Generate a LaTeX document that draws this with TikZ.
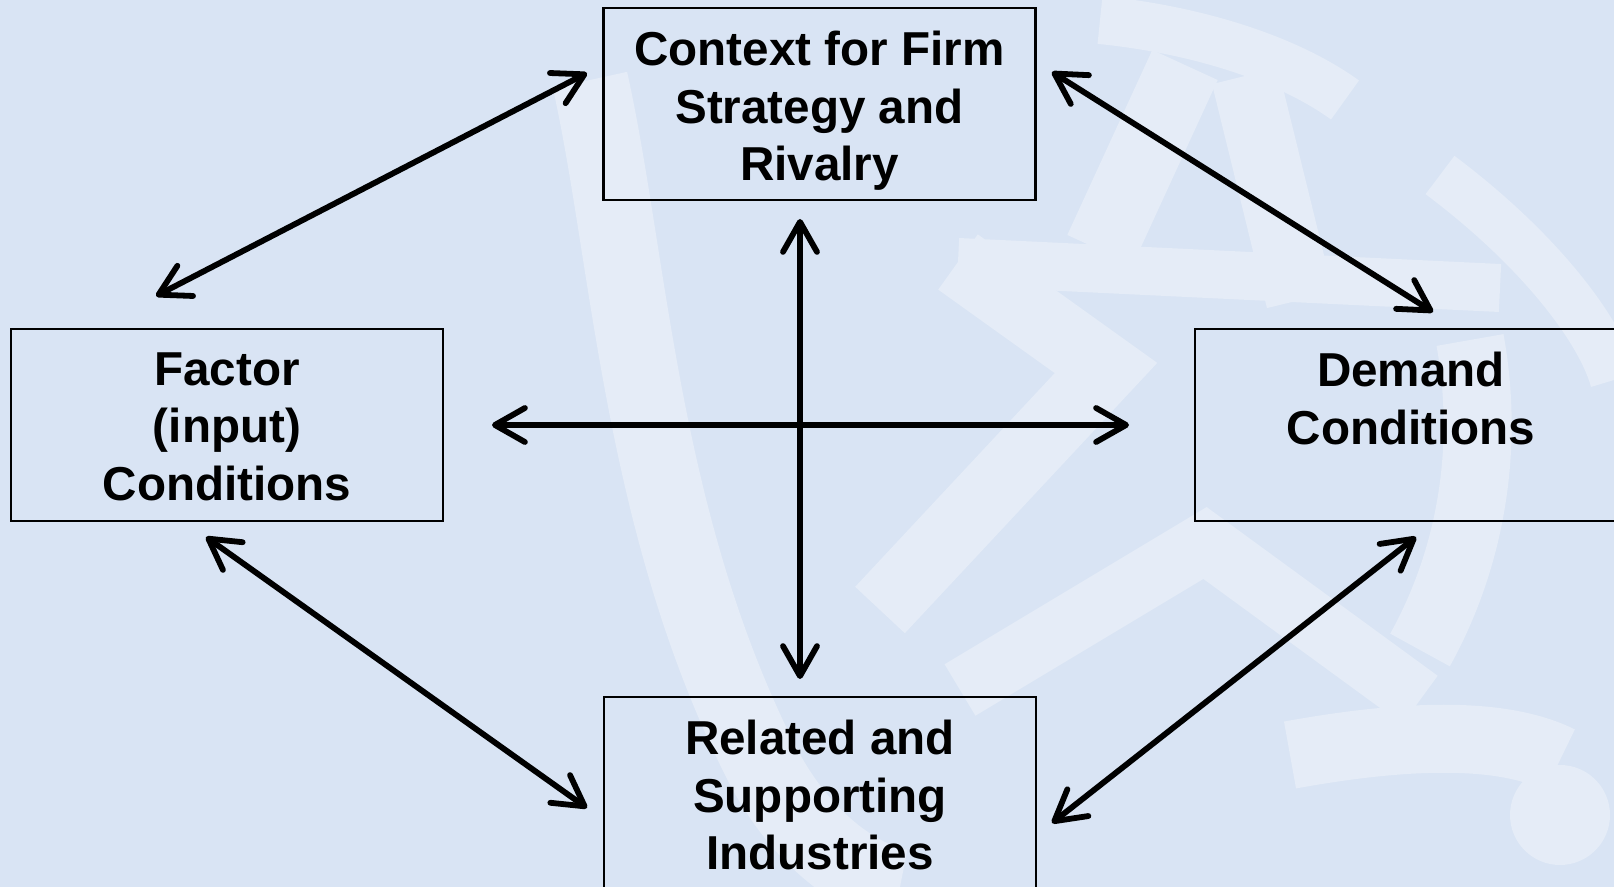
\documentclass[tikz,border=0pt]{standalone}
\usepackage{fontspec}
\setmainfont{Liberation Sans}
\usetikzlibrary{arrows.meta}
\definecolor{bg}{HTML}{D9E4F4}
\definecolor{wm}{HTML}{E5ECF7}
\begin{document}
\begin{tikzpicture}[x=0.5pt,y=-0.5pt,
  box/.style={draw=black,line width=1.1pt,minimum width=216pt,minimum height=96pt,inner sep=0pt},
  lbl/.style={anchor=north,align=center,inner sep=0pt,font=\fontsize{23.8}{28.75}\selectfont\bfseries},
  link/.style={line width=2.9pt,{Straight Barb[length=15pt,width=17pt,round]}-{Straight Barb[length=15pt,width=17pt,round]}},
  wmark/.style={wm,line width=36pt,line cap=butt}]
\fill[bg] (0,0) rectangle (1614,887);
\useasboundingbox (0,0) rectangle (1614,887);
\begin{scope}
  \clip (0,0) rectangle (1614,887);
  % large crescent
  \draw[wmark,line width=38pt] (590,80) .. controls (630,260) and (640,520) .. (760,760) .. controls (800,840) and (860,880) .. (900,887);
  % top band
  \draw[wmark,line width=24pt] (1100,20) .. controls (1200,30) and (1290,60) .. (1345,100);
  % bands below top band
  \draw[wmark] (1185,65) -- (1100,250);
  \draw[wmark,line width=34pt] (1245,76) -- (1300,300);
  % horizontal band
  \draw[wmark,line width=24pt] (958,262) -- (1500,288);
  % chevron
  \draw[wmark,line width=34pt] (958,262) -- (1106,368) -- (880,610);
  % lower chevron
  \draw[wmark,line width=30pt] (960,690) -- (1205,543) -- (1420,700);
  % right vertical stroke
  \draw[wmark,line width=34pt] (1470,340) .. controls (1490,450) and (1470,560) .. (1420,650);
  % upper right curve
  \draw[wmark,line width=24pt] (1440,175) .. controls (1540,250) and (1600,330) .. (1614,380);
  % lower right hook
  \draw[wmark,line width=34pt] (1290,755) .. controls (1400,735) and (1500,730) .. (1560,760);
  \fill[wm] (1560,815) circle (50);
\end{scope}
% boxes
\node[box] (ctx) at (819.5,104) {};
\node[box] (fac) at (227,425) {};
\node[box] (dem) at (1411,425) {};
\node[box] (rel) at (820,793) {};
% labels
\node[lbl] (ctxT) at ([yshift=-12pt]ctx.north) {Context for Firm\\Strategy and\\Rivalry};
\node[lbl] (facT) at ([yshift=-12pt]fac.north) {Factor\\(input)\\Conditions};
\node[lbl] (demT) at ([yshift=-12pt]dem.north) {Demand\\Conditions};
\node[lbl] (relT) at ([yshift=-12pt]rel.north) {Related and\\Supporting\\Industries};
% arrow ends
\coordinate (hL) at (492,425);
\coordinate (hR) at (1129,425);
\coordinate (vT) at (800,219);
\coordinate (vB) at (800,679);
\coordinate (tlA) at (587,73);
\coordinate (tlB) at (156,296);
\coordinate (trA) at (1052,72);
\coordinate (trB) at (1433,312);
\coordinate (blA) at (206,537);
\coordinate (blB) at (587,808);
\coordinate (brA) at (1416,537);
\coordinate (brB) at (1052,823);
\draw[link] (hL) -- (hR);
\draw[link] (vT) -- (vB);
\draw[link] (tlA) -- (tlB);
\draw[link] (trA) -- (trB);
\draw[link] (blA) -- (blB);
\draw[link] (brA) -- (brB);
\end{tikzpicture}
\end{document}
